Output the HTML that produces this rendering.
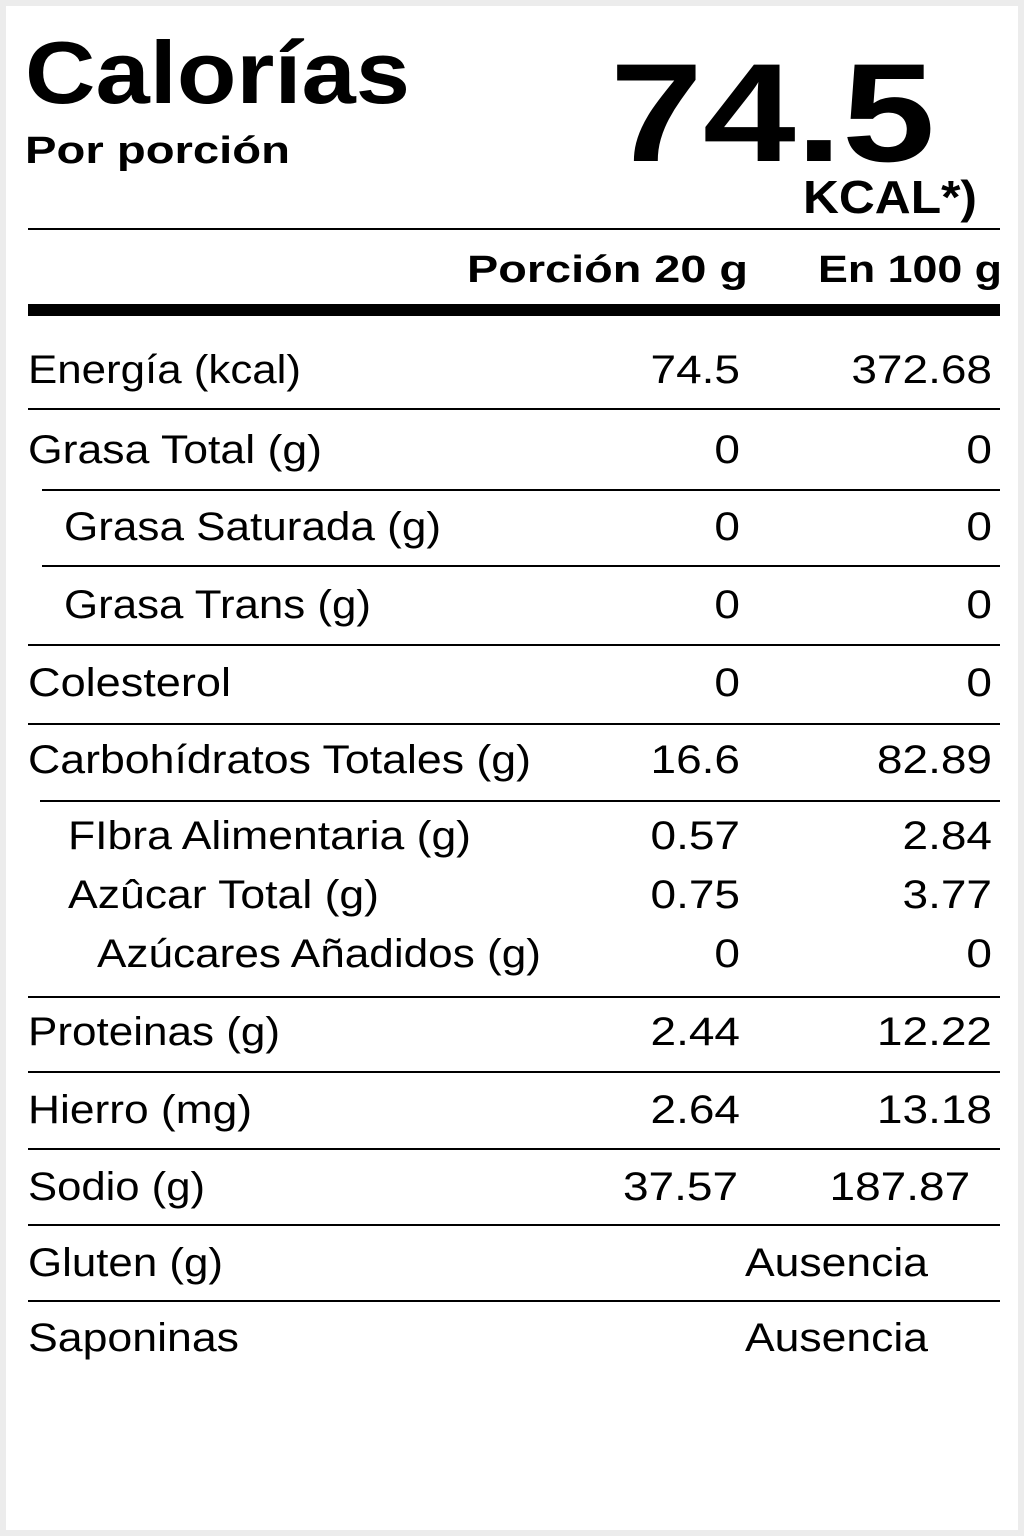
<!DOCTYPE html>
<html><head><meta charset="utf-8"><style>
html,body{margin:0;padding:0;background:#ececec;}
svg{display:block;}
text{font-family:"Liberation Sans",sans-serif;fill:#000;}
.r{font-size:40px;}
.b{font-weight:bold;}
</style></head><body>
<svg width="1024" height="1536" viewBox="0 0 1024 1536" xmlns="http://www.w3.org/2000/svg">
<rect x="0" y="0" width="1024" height="1536" fill="#ececec"/>
<rect x="6" y="6" width="1012" height="1524" fill="#fff"/>
<text class="b" x="25" y="103" font-size="88" textLength="385" lengthAdjust="spacingAndGlyphs">Calorías</text>
<text class="b" x="25" y="163" font-size="38" textLength="265" lengthAdjust="spacingAndGlyphs">Por porción</text>
<text class="b" x="610" y="161" font-size="140" textLength="325" lengthAdjust="spacingAndGlyphs">74.5</text>
<text class="b" x="803" y="213" font-size="46" textLength="174" lengthAdjust="spacingAndGlyphs">KCAL*)</text>
<rect x="28" y="228" width="972" height="2"/>
<text class="b" x="467" y="282" font-size="38" textLength="281" lengthAdjust="spacingAndGlyphs">Porción 20 g</text>
<text class="b" x="818" y="282" font-size="38" textLength="184" lengthAdjust="spacingAndGlyphs">En 100 g</text>
<rect x="28" y="304" width="972" height="12"/>
<g class="r" font-size="40">
<text x="28" y="383" textLength="273" lengthAdjust="spacingAndGlyphs">Energía (kcal)</text>
<text x="28" y="463" textLength="294" lengthAdjust="spacingAndGlyphs">Grasa Total (g)</text>
<text x="64" y="540" textLength="377" lengthAdjust="spacingAndGlyphs">Grasa Saturada (g)</text>
<text x="64" y="618" textLength="307" lengthAdjust="spacingAndGlyphs">Grasa Trans (g)</text>
<text x="28" y="696" textLength="203" lengthAdjust="spacingAndGlyphs">Colesterol</text>
<text x="28" y="773" textLength="503" lengthAdjust="spacingAndGlyphs">Carbohídratos Totales (g)</text>
<text x="68" y="849" textLength="403" lengthAdjust="spacingAndGlyphs">FIbra Alimentaria (g)</text>
<text x="68" y="908" textLength="311" lengthAdjust="spacingAndGlyphs">Azûcar Total (g)</text>
<text x="97" y="967" textLength="444" lengthAdjust="spacingAndGlyphs">Azúcares Añadidos (g)</text>
<text x="28" y="1045" textLength="252" lengthAdjust="spacingAndGlyphs">Proteinas (g)</text>
<text x="28" y="1123" textLength="224" lengthAdjust="spacingAndGlyphs">Hierro (mg)</text>
<text x="28" y="1200" textLength="177" lengthAdjust="spacingAndGlyphs">Sodio (g)</text>
<text x="28" y="1276" textLength="195" lengthAdjust="spacingAndGlyphs">Gluten (g)</text>
<text x="28" y="1351" textLength="211" lengthAdjust="spacingAndGlyphs">Saponinas</text>
</g>
<g class="r" font-size="40" text-anchor="end" transform="translate(740,0) scale(1.15,1)">
<text x="0" y="383">74.5</text>
<text x="0" y="463">0</text>
<text x="0" y="540">0</text>
<text x="0" y="618">0</text>
<text x="0" y="696">0</text>
<text x="0" y="773">16.6</text>
<text x="0" y="849">0.57</text>
<text x="0" y="908">0.75</text>
<text x="0" y="967">0</text>
<text x="0" y="1045">2.44</text>
<text x="0" y="1123">2.64</text>
<text x="-1.7" y="1200">37.57</text>
</g>
<g class="r" font-size="40" text-anchor="end" transform="translate(992,0) scale(1.15,1)">
<text x="0" y="383">372.68</text>
<text x="0" y="463">0</text>
<text x="0" y="540">0</text>
<text x="0" y="618">0</text>
<text x="0" y="696">0</text>
<text x="0" y="773">82.89</text>
<text x="0" y="849">2.84</text>
<text x="0" y="908">3.77</text>
<text x="0" y="967">0</text>
<text x="0" y="1045">12.22</text>
<text x="0" y="1123">13.18</text>
<text x="-19" y="1200">187.87</text>
</g>
<text class="r" x="745" y="1276" font-size="40" textLength="183" lengthAdjust="spacingAndGlyphs">Ausencia</text>
<text class="r" x="745" y="1351" font-size="40" textLength="183" lengthAdjust="spacingAndGlyphs">Ausencia</text>
<g>
<rect x="28" y="408" width="972" height="2"/>
<rect x="42" y="489" width="958" height="2"/>
<rect x="42" y="565" width="958" height="2"/>
<rect x="28" y="644" width="972" height="2"/>
<rect x="28" y="723" width="972" height="2"/>
<rect x="40" y="800" width="960" height="2"/>
<rect x="28" y="996" width="972" height="2"/>
<rect x="28" y="1071" width="972" height="2"/>
<rect x="28" y="1148" width="972" height="2"/>
<rect x="28" y="1224" width="972" height="2"/>
<rect x="28" y="1300" width="972" height="2"/>
</g>
</svg>
</body></html>
